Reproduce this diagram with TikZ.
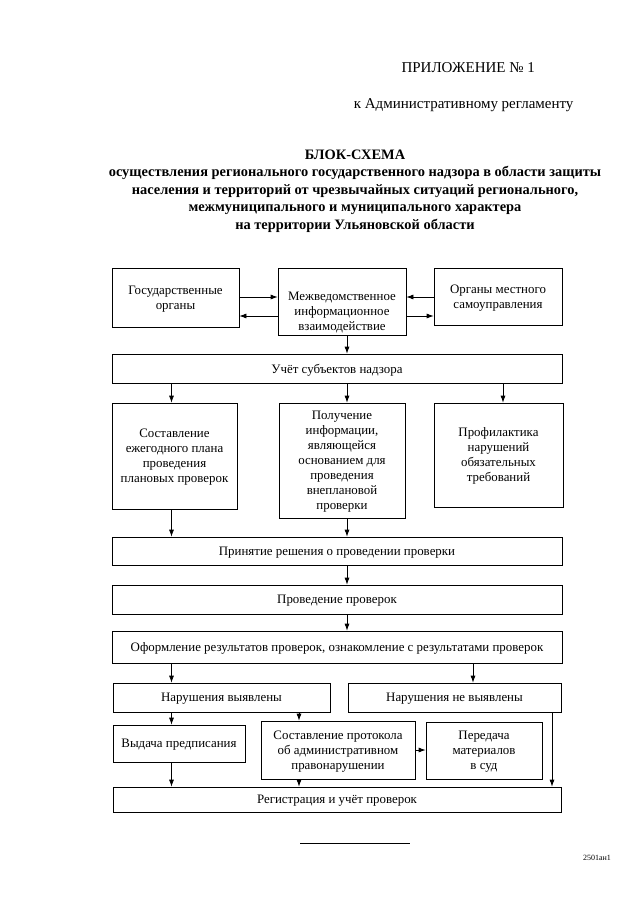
\documentclass[tikz,border=0pt]{standalone}
\usepackage{fontspec}
\setmainfont{Liberation Serif}
\usetikzlibrary{arrows,arrows.meta}

\begin{document}
\begin{tikzpicture}[x=1pt,y=-1pt,
box/.style={draw,line width=0.7pt,inner sep=2pt,align=center,text depth=0pt,font=\fontsize{12.9}{15}\selectfont},
arr/.style={-{Latex[length=7pt,width=5pt]},line width=0.7pt},
head/.style={font=\fontsize{15}{17}\selectfont}]

\useasboundingbox (0,0) rectangle (640,905);

% columns and rows for the connectors
\coordinate (c1) at (171.5,0);
\coordinate (c2) at (347,0);
\coordinate (c3) at (503,0);
\coordinate (c4) at (473,0);
\coordinate (c5) at (299,0);
\coordinate (c6) at (552,0);
\coordinate (r1) at (0,297);
\coordinate (r2) at (0,316);

% heading
\node[head,anchor=base west] (pril) at (398,72) {ПРИЛОЖЕНИЕ № 1};
\node[head,anchor=base east] (regl) at (577,108) {к Административному регламенту};
\node[align=center,font=\fontsize{14.4}{17.5}\selectfont\bfseries] (title) at (355,191)
{БЛОК-СХЕМА\\
осуществления регионального государственного надзора в области защиты\\
населения и территорий от чрезвычайных ситуаций регионального,\\
межмуниципального и муниципального характера\\
на территории Ульяновской области};

% boxes
\node[box,minimum width=127pt,minimum height=59pt] (gos) at (175.5,297.5) {Государственные\\органы};
\node[box,minimum width=128pt,minimum height=67pt,text height=58pt] (mezh) at (342,301.5) {Межведомственное\\информационное\\взаимодействие};
\node[box,minimum width=128pt,minimum height=57pt] (org) at (498,296.5) {Органы местного\\самоуправления};
\node[box,minimum width=450pt,minimum height=29pt] (uchet) at (337,368.5) {Учёт субъектов надзора};

\node[box,minimum width=125pt,minimum height=106pt] (plan) at (174.5,456) {Составление\\ежегодного плана\\проведения\\плановых проверок};
\node[box,minimum width=126pt,minimum height=115pt] (info) at (342,460.5) {Получение\\информации,\\являющейся\\основанием для\\проведения\\внеплановой\\проверки};
\node[box,minimum width=129pt,minimum height=104pt] (prof) at (498.5,455) {Профилактика\\нарушений\\обязательных\\требований};

\node[box,minimum width=450pt,minimum height=28pt] (prin) at (337,551) {Принятие решения о проведении проверки};
\node[box,minimum width=450pt,minimum height=29pt] (prov) at (337,599.5) {Проведение проверок};
\node[box,minimum width=450pt,minimum height=32pt] (oform) at (337,647) {Оформление результатов проверок, ознакомление с результатами проверок};

\node[box,minimum width=217pt,minimum height=29pt] (nv) at (221.5,697.5) {Нарушения выявлены};
\node[box,minimum width=213pt,minimum height=29pt] (nnv) at (454.5,697.5) {Нарушения не выявлены};

\node[box,minimum width=132pt,minimum height=37pt] (vyd) at (179,743.5) {Выдача предписания};
\node[box,minimum width=154pt,minimum height=58pt] (prot) at (338,750) {Составление протокола\\об административном\\правонарушении};
\node[box,minimum width=116pt,minimum height=57pt] (pered) at (484,750.5) {Передача\\материалов\\в суд};

\node[box,minimum width=448pt,minimum height=25pt] (reg) at (337,799.5) {Регистрация и учёт проверок};

% connectors
\draw[arr] (gos.east |- r1) -- (mezh.west |- r1);
\draw[arr] (mezh.west |- r2) -- (gos.east |- r2);
\draw[arr] (org.west |- r1) -- (mezh.east |- r1);
\draw[arr] (mezh.east |- r2) -- (org.west |- r2);
\draw[arr] (mezh.south -| c2) -- (uchet.north -| c2);

\draw[arr] (uchet.south -| c1) -- (plan.north -| c1);
\draw[arr] (uchet.south -| c2) -- (info.north -| c2);
\draw[arr] (uchet.south -| c3) -- (prof.north -| c3);
\draw[arr] (plan.south -| c1) -- (prin.north -| c1);
\draw[arr] (info.south -| c2) -- (prin.north -| c2);

\draw[arr] (prin.south -| c2) -- (prov.north -| c2);
\draw[arr] (prov.south -| c2) -- (oform.north -| c2);
\draw[arr] (oform.south -| c1) -- (nv.north -| c1);
\draw[arr] (oform.south -| c4) -- (nnv.north -| c4);

\draw[arr] (nv.south -| c1) -- (vyd.north -| c1);
\draw[arr] (nv.south -| c5) -- (prot.north -| c5);
\draw[arr] (prot.east) -- (prot.east -| pered.west);
\draw[arr] (vyd.south -| c1) -- (reg.north -| c1);
\draw[arr] (prot.south -| c5) -- (reg.north -| c5);
\draw[arr] (nnv.south -| c6) -- (reg.north -| c6);

% foot
\draw[line width=0.7pt] (300,843) -- (410,843);
\node[font=\fontsize{8}{9}\selectfont] (code) at (597,858) {2501ан1};
\end{tikzpicture}
\end{document}
